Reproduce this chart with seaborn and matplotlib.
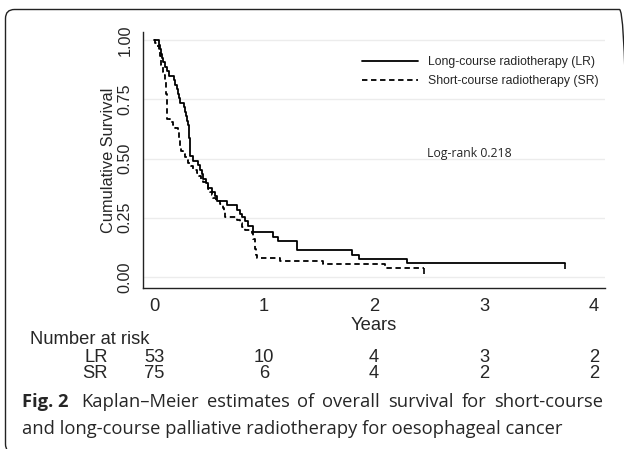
import matplotlib
matplotlib.use("Agg")
import matplotlib.pyplot as plt
import matplotlib.transforms as mtransforms
from matplotlib.patches import FancyBboxPatch
import seaborn as sns

# Kaplan-Meier step data (time in years, survival)
lr_time = [0.0, 0.042, 0.050, 0.060, 0.070, 0.085, 0.100, 0.121, 0.135, 0.182,
           0.195, 0.205, 0.215, 0.228, 0.236, 0.273, 0.280, 0.290, 0.297, 0.305,
           0.318, 0.322, 0.325, 0.327, 0.358, 0.403, 0.415, 0.435, 0.448, 0.470,
           0.494, 0.524, 0.555, 0.570, 0.660, 0.752, 0.780, 0.797, 0.827, 0.857,
           0.897, 1.080, 1.130, 1.300, 1.800, 1.860, 2.300, 3.740]
lr_surv = [1.000, 0.981, 0.962, 0.943, 0.925, 0.906, 0.887, 0.868, 0.849, 0.830,
           0.811, 0.792, 0.774, 0.755, 0.736, 0.717, 0.698, 0.679, 0.660, 0.642,
           0.623, 0.585, 0.547, 0.509, 0.490, 0.471, 0.452, 0.434, 0.415, 0.396,
           0.377, 0.358, 0.340, 0.321, 0.302, 0.283, 0.264, 0.255, 0.236, 0.217,
           0.189, 0.170, 0.151, 0.113, 0.094, 0.075, 0.057, 0.057]

sr_time = [0.0, 0.009, 0.030, 0.048, 0.055, 0.064, 0.080, 0.091, 0.100, 0.109,
           0.112, 0.115, 0.118, 0.121, 0.145, 0.175, 0.191, 0.221, 0.226, 0.232,
           0.238, 0.242, 0.265, 0.282, 0.300, 0.312, 0.335, 0.358, 0.388, 0.410,
           0.430, 0.448, 0.470, 0.494, 0.509, 0.525, 0.539, 0.560, 0.600, 0.624,
           0.640, 0.645, 0.752, 0.780, 0.800, 0.830, 0.895, 0.900, 0.915, 0.925,
           0.933, 1.145, 1.540, 2.100, 2.450]
sr_surv = [1.000, 0.987, 0.973, 0.960, 0.933, 0.893, 0.867, 0.853, 0.827, 0.800,
           0.773, 0.733, 0.693, 0.667, 0.653, 0.640, 0.627, 0.613, 0.587, 0.573,
           0.547, 0.533, 0.520, 0.507, 0.493, 0.480, 0.467, 0.453, 0.440, 0.427,
           0.413, 0.400, 0.387, 0.373, 0.360, 0.347, 0.333, 0.320, 0.307, 0.293,
           0.280, 0.253, 0.240, 0.227, 0.213, 0.200, 0.187, 0.160, 0.120, 0.093,
           0.080, 0.067, 0.053, 0.037, 0.037]

x_ticks = [0, 1, 2, 3, 4]
y_ticks = [0.0, 0.25, 0.5, 0.75, 1.0]
y_tick_labels = ["0.00", "0.25", "0.50", "0.75", "1.00"]

risk_times = [0, 1, 2, 3, 4]
lr_risk = [53, 10, 4, 3, 2]
sr_risk = [75, 6, 4, 2, 2]

caption_line1 = "Kaplan\u2013Meier estimates of overall survival for short-course"
caption_line2 = "and long-course palliative radiotherapy for oesophageal cancer"

sns.set_style("white")
plt.rcParams["font.family"] = ["Liberation Sans", "DejaVu Sans"]
caption_font = ["Open Sans", "DejaVu Sans"]

fig = plt.figure(figsize=(6.24, 4.49), dpi=100)
ax = fig.add_axes([143 / 624, 1 - 288 / 449, (605 - 143) / 624, (288 - 32) / 449])

sns.lineplot(x=lr_time, y=lr_surv, ax=ax, drawstyle="steps-post", color="black",
             linewidth=1.3, estimator=None, label="Long-course radiotherapy (LR)")
sns.lineplot(x=sr_time, y=sr_surv, ax=ax, drawstyle="steps-post", color="black",
             linewidth=1.3, linestyle=(0, (3, 2)), estimator=None,
             label="Short-course radiotherapy (SR)")
# censor ticks at the end of each curve
ax.plot(lr_time[-1:], lr_surv[-1:], marker=3, ms=4, mew=1.2, color="black", ls="none")
ax.plot(sr_time[-1:], sr_surv[-1:], marker=3, ms=4, mew=1.2, color="black", ls="none")

ax.set_xlim(-0.1, 4.1)
ax.set_ylim(-0.0464, 1.034)
ax.set_xticks(x_ticks)
ax.set_yticks(y_ticks)
ax.set_yticklabels(y_tick_labels)
ax.yaxis.grid(True, color="#ececec", linewidth=1.0)
ax.xaxis.grid(False)
ax.set_axisbelow(True)
sns.despine(ax=ax)
for side in ["left", "bottom"]:
    ax.spines[side].set_color("#222222")
    ax.spines[side].set_linewidth(1.0)
ax.tick_params(axis="both", direction="out", length=4, width=1.0, color="#222222",
               pad=3.5)
ax.tick_params(axis="x", labelsize=13.2)
ax.tick_params(axis="y", labelsize=11.6, labelrotation=90)
for lab in ax.get_yticklabels():
    lab.set_va("center")

ax.set_xlabel("Years", fontsize=13.2, labelpad=1)
ax.set_ylabel("Cumulative Survival", fontsize=11.8, labelpad=1)

leg = ax.legend(loc="upper left", bbox_to_anchor=(362 / 624, 1 - 56 / 449),
                bbox_transform=fig.transFigure, frameon=False, fontsize=8.8,
                handlelength=4.6, handletextpad=0.8, labelspacing=0.6,
                borderpad=0, borderaxespad=0)

fig.text(427 / 624, 1 - 154 / 449, "Log-rank 0.218", fontsize=8.8,
         family=caption_font, va="center", ha="left")

# number at risk table
trans = mtransforms.blended_transform_factory(ax.transData, fig.transFigure)
fig.text(30 / 624, 1 - 340 / 449, "Number at risk", fontsize=13.2, va="center")
fig.text(108 / 624, 1 - 357 / 449, "LR", fontsize=13.2, va="center", ha="right")
fig.text(108 / 624, 1 - 373 / 449, "SR", fontsize=13.2, va="center", ha="right")
for t, n in zip(risk_times, lr_risk):
    ax.text(t, 1 - 357 / 449, str(n), transform=trans, fontsize=13.2,
            ha="center", va="center")
for t, n in zip(risk_times, sr_risk):
    ax.text(t, 1 - 373 / 449, str(n), transform=trans, fontsize=13.2,
            ha="center", va="center")

# caption (first line justified between x=81 and x=603 px)
fig.text(22 / 624, 1 - 407 / 449, "Fig. 2", fontsize=13.2, fontweight="bold",
         family=caption_font, va="baseline")
renderer = fig.canvas.get_renderer()
words = caption_line1.split(" ")
word_texts = [fig.text(0, 1 - 407 / 449, w, fontsize=13.2, family=caption_font,
                       va="baseline") for w in words]
widths = [t.get_window_extent(renderer).width for t in word_texts]
gap = (603 - 81 - sum(widths)) / (len(words) - 1)
x = 81
for t, w in zip(word_texts, widths):
    t.set_x(x / 624)
    x += w + gap
fig.text(22 / 624, 1 - 434 / 449, caption_line2, fontsize=13.2,
         family=caption_font, va="baseline")

# rounded frame around the figure
frame = FancyBboxPatch((5.5, -4), 623, 443.5,
                       boxstyle="round,pad=0,rounding_size=9",
                       transform=mtransforms.IdentityTransform(),
                       facecolor="none", edgecolor="#222222", linewidth=1.0)
fig.patches.append(frame)

fig.savefig("out.png", dpi=100)
